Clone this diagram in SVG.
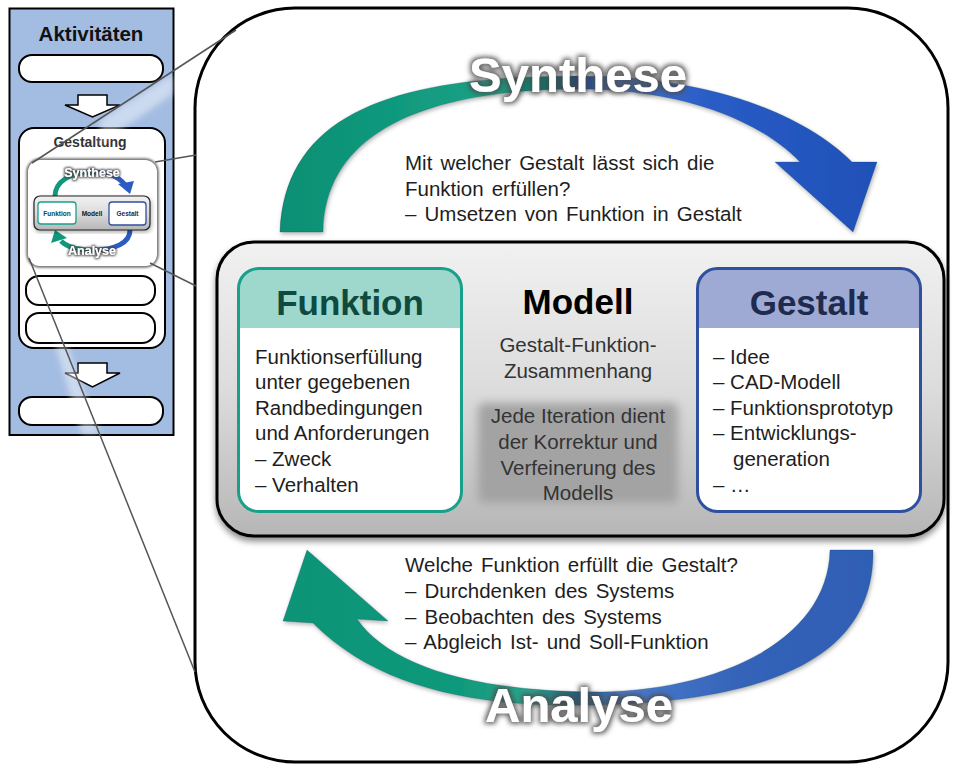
<svg xmlns="http://www.w3.org/2000/svg" width="955" height="767" viewBox="0 0 955 767">
<style>
  .t { font-family: "Liberation Sans", Arial, sans-serif; }
  .q { font-family: "Liberation Sans", Arial, sans-serif; font-size: 20.5px; fill: #1e1e1e; word-spacing: 2.4px; }
  .body { font-family: "Liberation Sans", Arial, sans-serif; font-size: 20.5px; fill: #1e1e1e; }
  .mid { font-family: "Liberation Sans", Arial, sans-serif; font-size: 20.5px; fill: #333; text-anchor: middle; }
  .title { font-family: "Liberation Sans", Arial, sans-serif; font-size: 35px; font-weight: bold; text-anchor: middle; }
  .big { font-family: "Liberation Sans", Arial, sans-serif; font-size: 49px; font-weight: bold; fill: #fff; text-anchor: middle; }
  .mini { font-family: "Liberation Sans", Arial, sans-serif; font-weight: bold; text-anchor: middle; }
  .pbox { fill: #fff; stroke: #000; stroke-width: 2; }
  .zl { stroke: #555; stroke-width: 1.5; fill: none; }
</style>
<defs>
  <linearGradient id="gU" gradientUnits="userSpaceOnUse" x1="280" y1="0" x2="877" y2="0">
    <stop offset="0" stop-color="#0b8f73"/>
    <stop offset="0.36" stop-color="#16a286"/>
    <stop offset="0.45" stop-color="#0d6f63"/>
    <stop offset="0.5" stop-color="#1d3f7a"/>
    <stop offset="0.57" stop-color="#3f74d2"/>
    <stop offset="0.72" stop-color="#2a5cc6"/>
    <stop offset="1" stop-color="#1f50b8"/>
  </linearGradient>
  <linearGradient id="gL" gradientUnits="userSpaceOnUse" x1="283" y1="0" x2="873" y2="0">
    <stop offset="0" stop-color="#0e9477"/>
    <stop offset="0.3" stop-color="#10997b"/>
    <stop offset="0.42" stop-color="#2aa48c"/>
    <stop offset="0.5" stop-color="#1f5a7a"/>
    <stop offset="0.58" stop-color="#4a7acc"/>
    <stop offset="0.78" stop-color="#3463b8"/>
    <stop offset="1" stop-color="#2f5fb5"/>
  </linearGradient>
  <linearGradient id="gMini" gradientUnits="userSpaceOnUse" x1="50" y1="0" x2="134" y2="0">
    <stop offset="0" stop-color="#10987b"/>
    <stop offset="0.45" stop-color="#10987b"/>
    <stop offset="0.55" stop-color="#2a5cc4"/>
    <stop offset="1" stop-color="#2a5cc4"/>
  </linearGradient>
  <linearGradient id="gModel" x1="0" y1="0" x2="0" y2="1">
    <stop offset="0" stop-color="#f1f1f1"/>
    <stop offset="0.5" stop-color="#dcdcdc"/>
    <stop offset="1" stop-color="#b6b6b6"/>
  </linearGradient>
  <filter id="halo" x="-20%" y="-40%" width="140%" height="180%">
    <feMorphology in="SourceAlpha" operator="dilate" radius="2" result="d"/>
    <feGaussianBlur in="d" stdDeviation="2.5" result="b"/>
    <feFlood flood-color="#4a4a4a" flood-opacity="0.85"/>
    <feComposite in2="b" operator="in" result="s"/>
    <feMerge><feMergeNode in="s"/><feMergeNode in="SourceGraphic"/></feMerge>
  </filter>
  <filter id="haloS" x="-20%" y="-50%" width="140%" height="200%">
    <feMorphology in="SourceAlpha" operator="dilate" radius="0.7" result="d"/>
    <feGaussianBlur in="d" stdDeviation="1" result="b"/>
    <feFlood flood-color="#444" flood-opacity="0.9"/>
    <feComposite in2="b" operator="in" result="s"/>
    <feMerge><feMergeNode in="s"/><feMergeNode in="SourceGraphic"/></feMerge>
  </filter>
  <filter id="shadow" x="-5%" y="-5%" width="110%" height="115%">
    <feDropShadow dx="0" dy="4" stdDeviation="3" flood-color="#000" flood-opacity="0.45"/>
  </filter>
  <filter id="shadowA" x="-5%" y="-5%" width="110%" height="115%">
    <feDropShadow dx="1" dy="2" stdDeviation="2" flood-color="#000" flood-opacity="0.3"/>
  </filter>
  <filter id="soft" x="-20%" y="-20%" width="140%" height="140%">
    <feGaussianBlur stdDeviation="5"/>
  </filter>
  <filter id="soft1" x="-10%" y="-10%" width="120%" height="120%">
    <feGaussianBlur stdDeviation="1.2"/>
  </filter>
  <filter id="soft3" x="-30%" y="-30%" width="160%" height="160%">
    <feGaussianBlur stdDeviation="3"/>
  </filter>
</defs>

<rect width="955" height="767" fill="#fff"/>

<!-- Left panel: Aktivitäten -->
<g id="panel-aktivitaeten">
  <rect x="9.5" y="8.5" width="164" height="426.5" fill="#a3bce2" stroke="#000" stroke-width="2"/>
  <text class="t" x="91" y="41" font-size="20.5" font-weight="bold" text-anchor="middle" fill="#111">Aktivitäten</text>
  <rect class="pbox" x="19" y="55" width="144" height="27" rx="13"/>
  <path d="M78,95 H107 V105 H120 L92.5,117 L65,105 H78 Z" fill="#fff" stroke="#000" stroke-width="1.5"/>
  <g id="box-gestaltung">
    <rect class="pbox" x="19" y="128" width="146" height="220" rx="15"/>
    <text class="t" x="90" y="147" font-size="14" font-weight="bold" text-anchor="middle" fill="#333">Gestaltung</text>
  </g>
  <g id="thumbnail">
    <rect x="28" y="160" width="129" height="106" rx="12" fill="none" stroke="#6f6f6f" stroke-width="3.5" filter="url(#soft1)"/>
    <rect x="28" y="160" width="129" height="106" rx="12" fill="#fff"/>
    <path d="M55,196 C55,182 70,172 92,172 C110,172 120,178 125,185" fill="none" stroke="url(#gMini)" stroke-width="5"/>
    <polygon points="118,184 134,181 130,194" fill="#2a5cc4"/>
    <path d="M130,230 C130,243 115,250 92,250 C75,250 66,246 61,241" fill="none" stroke="url(#gMini)" stroke-width="5"/>
    <polygon points="51,243 67,238 55,230" fill="#10987b"/>
    <rect x="34" y="196" width="116" height="34" rx="6" fill="url(#gModel)" stroke="#222" stroke-width="1.2" filter="url(#shadowA)"/>
    <rect x="38" y="202" width="38" height="22" rx="3" fill="#fff" stroke="#18a08a" stroke-width="1.3"/>
    <text class="mini" x="57" y="215.5" font-size="6.5" fill="#0e4a40">Funktion</text>
    <rect x="109" y="202" width="37" height="23" rx="3" fill="#fff" stroke="#2f4f9f" stroke-width="1.3"/>
    <text class="mini" x="127.5" y="216" font-size="6.5" fill="#1e2b4f">Gestalt</text>
    <text class="mini" x="92" y="215.5" font-size="6.5" fill="#111">Modell</text>
    <text class="mini" x="92" y="177" font-size="12.5" fill="#fff" filter="url(#haloS)">Synthese</text>
    <text class="mini" x="92" y="255" font-size="12.5" fill="#fff" filter="url(#haloS)">Analyse</text>
  </g>
  <rect class="pbox" x="26" y="276" width="129" height="29" rx="13"/>
  <rect class="pbox" x="26" y="313" width="129" height="30" rx="13"/>
  <path d="M78,363 H107 V373 H120 L92.5,387 L65,373 H78 Z" fill="#fff" stroke="#000" stroke-width="1.5"/>
  <rect class="pbox" x="19" y="397" width="144" height="28" rx="13"/>
  <polygon points="173,74 173,94 100,144 100,120" fill="#fff" opacity="0.45" filter="url(#soft3)"/>
  <polygon points="55,345 67,345 100,434 82,434" fill="#fff" opacity="0.45" filter="url(#soft3)"/>
</g>

<!-- Big frame -->
<g id="frame">
  <rect x="195" y="8" width="753" height="754" rx="100" fill="#fff" stroke="#000" stroke-width="3"/>
</g>

<!-- Synthese arc -->
<g id="arc-synthese" filter="url(#shadowA)">
  <path d="M280,232 C285,110 400,76 580,76 C700,76 800,110 852,162 L877,162 L853,232 L775,162 L800,162 C760,120 680,89 580,89 C440,89 325,125 323,232 Z" fill="url(#gU)" stroke="#0a3f5a" stroke-opacity="0.25" stroke-width="1"/>
</g>

<!-- Analyse arc -->
<g id="arc-analyse" filter="url(#shadowA)">
  <path d="M873,550 C875,655 775,700 600,705 C480,708 380,690 313,623 L283,621 L307,550 L388,621 L357,619 C388,664 470,692 600,692 C720,690 828,640 830,550 Z" fill="url(#gL)" stroke="#0a3f5a" stroke-opacity="0.25" stroke-width="1"/>
</g>

<!-- Questions -->
<g id="text-synthese-question">
  <text class="q" x="405" y="170">Mit welcher Gestalt lässt sich die</text>
  <text class="q" x="405" y="195.5">Funktion erfüllen?</text>
  <text class="q" x="405" y="221">– Umsetzen von Funktion in Gestalt</text>
</g>
<g id="text-analyse-question">
  <text class="q" x="405" y="572">Welche Funktion erfüllt die Gestalt?</text>
  <text class="q" x="405" y="598">– Durchdenken des Systems</text>
  <text class="q" x="405" y="624">– Beobachten des Systems</text>
  <text class="q" x="405" y="649">– Abgleich Ist- und Soll-Funktion</text>
</g>

<!-- Modell -->
<g id="modell">
  <rect x="217" y="242" width="727" height="294" rx="37" fill="url(#gModel)" stroke="#000" stroke-width="3" filter="url(#shadow)"/>
  <text class="title" x="578" y="314" fill="#000">Modell</text>
  <text class="mid" x="578" y="352">Gestalt-Funktion-</text>
  <text class="mid" x="578" y="377.5">Zusammenhang</text>
  <rect x="478" y="403" width="200" height="100" rx="6" fill="#a3a3a3" filter="url(#soft)"/>
  <text class="mid" x="578" y="423">Jede Iteration dient</text>
  <text class="mid" x="578" y="449">der Korrektur und</text>
  <text class="mid" x="578" y="474.5">Verfeinerung des</text>
  <text class="mid" x="578" y="500">Modells</text>
</g>

<g id="funktion">
  <rect x="238.5" y="268.5" width="223" height="243" rx="20" fill="#fff"/>
  <path d="M238.5,328 V288.5 A20,20 0 0 1 258.5,268.5 H441.5 A20,20 0 0 1 461.5,288.5 V328 Z" fill="#9ed7cc"/>
  <rect x="238.5" y="268.5" width="223" height="243" rx="20" fill="none" stroke="#18a08a" stroke-width="3"/>
  <text class="title" x="350" y="315" fill="#0e4a40">Funktion</text>
  <text class="body" x="255" y="363.5">Funktionserfüllung</text>
  <text class="body" x="255" y="389">unter gegebenen</text>
  <text class="body" x="255" y="414.7">Randbedingungen</text>
  <text class="body" x="255" y="440.3">und Anforderungen</text>
  <text class="body" x="255" y="466">– Zweck</text>
  <text class="body" x="255" y="491.5">– Verhalten</text>
</g>

<g id="gestalt">
  <rect x="697.5" y="268.5" width="223" height="243" rx="20" fill="#fff"/>
  <path d="M697.5,328 V288.5 A20,20 0 0 1 717.5,268.5 H900.5 A20,20 0 0 1 920.5,288.5 V328 Z" fill="#9eaad3"/>
  <rect x="697.5" y="268.5" width="223" height="243" rx="20" fill="none" stroke="#2f4f9f" stroke-width="3"/>
  <text class="title" x="809" y="315" fill="#1e2b4f">Gestalt</text>
  <text class="body" x="713" y="363.5">– Idee</text>
  <text class="body" x="713" y="389">– CAD-Modell</text>
  <text class="body" x="713" y="414.7">– Funktionsprototyp</text>
  <text class="body" x="713" y="440.3">– Entwicklungs-</text>
  <text class="body" x="733" y="466">generation</text>
  <text class="body" x="713" y="491.5">– …</text>
</g>

<!-- Big labels -->
<g id="label-synthese">
  <text class="big" x="578" y="92" filter="url(#halo)">Synthese</text>
</g>
<g id="label-analyse">
  <text class="big" x="579" y="722" filter="url(#halo)">Analyse</text>
</g>

<!-- Zoom connector lines -->
<g id="connectors">
  <line class="zl" x1="32" y1="163" x2="236" y2="30"/>
  <line class="zl" x1="155" y1="162" x2="196" y2="155"/>
  <line class="zl" x1="150" y1="263" x2="196" y2="286"/>
  <line class="zl" x1="29" y1="258" x2="195" y2="672"/>
</g>
</svg>
